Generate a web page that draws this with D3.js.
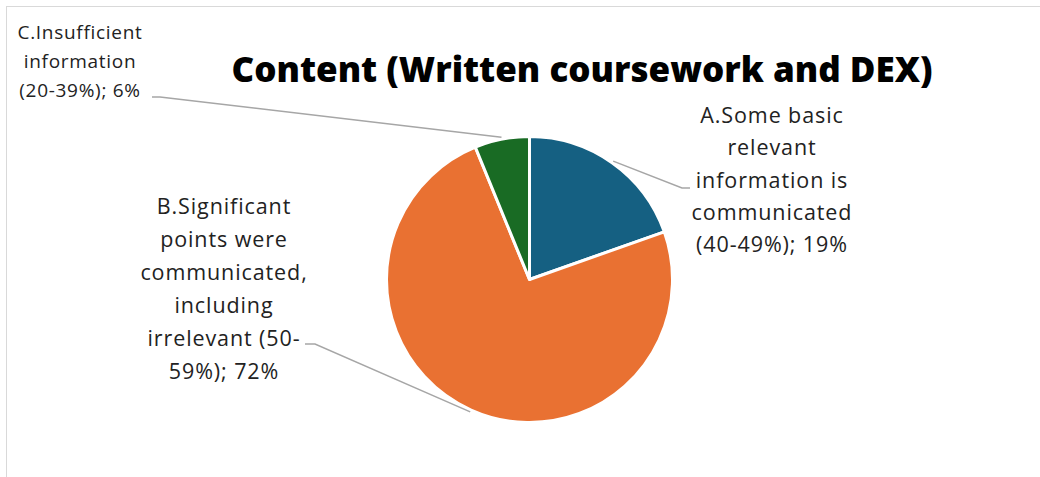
<!DOCTYPE html>
<html>
<head>
<meta charset="utf-8">
<script src="https://cdn.jsdelivr.net/npm/d3@7"></script>
<style>
  html, body { margin: 0; padding: 0; background: #ffffff; }
  svg { display: block; }
  text { font-family: "Open Sans", Lato, sans-serif; fill: #222222; }
</style>
</head>
<body>
<svg id="chart" width="1040" height="477"></svg>
<script>
// Share of students per grade band, content criterion
const categories = ["A", "B", "C"];
const values = [19, 72, 6];
const labelLines = [
  ["A.Some basic", "relevant", "information is", "communicated", "(40-49%); 19%"],
  ["B.Significant", "points were", "communicated,", "including", "irrelevant (50-", "59%); 72%"],
  ["C.Insufficient", "information", "(20-39%); 6%"]
];
const colors = ["#156082", "#E97132", "#196B24"];
const title = "Content (Written coursework and DEX)";

const W = 1040, H = 477;
const svg = d3.select("#chart");

// chart area frame
svg.append("rect")
  .attr("x", 6.5).attr("y", 6.5)
  .attr("width", W + 20).attr("height", H + 20)
  .attr("fill", "#ffffff").attr("stroke", "#d9d9d9").attr("stroke-width", 1);

svg.append("text")
  .attr("x", 582).attr("y", 82)
  .attr("text-anchor", "middle")
  .style("font-size", "35px").style("font-weight", 800)
  .style("fill", "#000000")
  .text(title);

const cx = 529.5, cy = 279.5, R = 143;
const g = svg.append("g").attr("transform", `translate(${cx},${cy})`);

const pie = d3.pie().sort(null).value(d => d)(values);
const arc = d3.arc().innerRadius(0).outerRadius(R);

g.selectAll("path.slice")
  .data(pie)
  .join("path")
  .attr("class", "slice")
  .attr("d", arc)
  .attr("fill", (d, i) => colors[i])
  .attr("stroke", "#ffffff")
  .attr("stroke-width", 3)
  .attr("stroke-linejoin", "round");

// label placement (centre x, first baseline, line height, font size, tracking) and leader elbows
const labelLayout = [
  { x: 772, y: 123, lh: 32.3, fs: 21.5, ls: 0.9, elbow: [[682, 188], [690, 188]] },
  { x: 224, y: 214, lh: 33, fs: 21.5, ls: 0.9, elbow: [[315, 344], [305, 344]] },
  { x: 80, y: 39, lh: 29.2, fs: 19, ls: 0.7, elbow: [[160, 97], [152, 97]] }
];

const edge = d3.arc().innerRadius(R + 2).outerRadius(R + 2);
pie.forEach((d, i) => {
  const [ex, ey] = edge.centroid(d);
  const pts = [[cx + ex, cy + ey], ...labelLayout[i].elbow];
  svg.append("path")
    .attr("d", d3.line()(pts))
    .attr("fill", "none")
    .attr("stroke", "#a6a6a6")
    .attr("stroke-width", 1.5);
});

labelLines.forEach((lines, i) => {
  const L = labelLayout[i];
  const t = svg.append("text")
    .attr("text-anchor", "middle")
    .style("font-size", L.fs + "px")
    .style("letter-spacing", L.ls + "px");
  lines.forEach((ln, j) => {
    t.append("tspan").attr("x", L.x).attr("y", L.y + j * L.lh).text(ln);
  });
});
</script>
</body>
</html>
